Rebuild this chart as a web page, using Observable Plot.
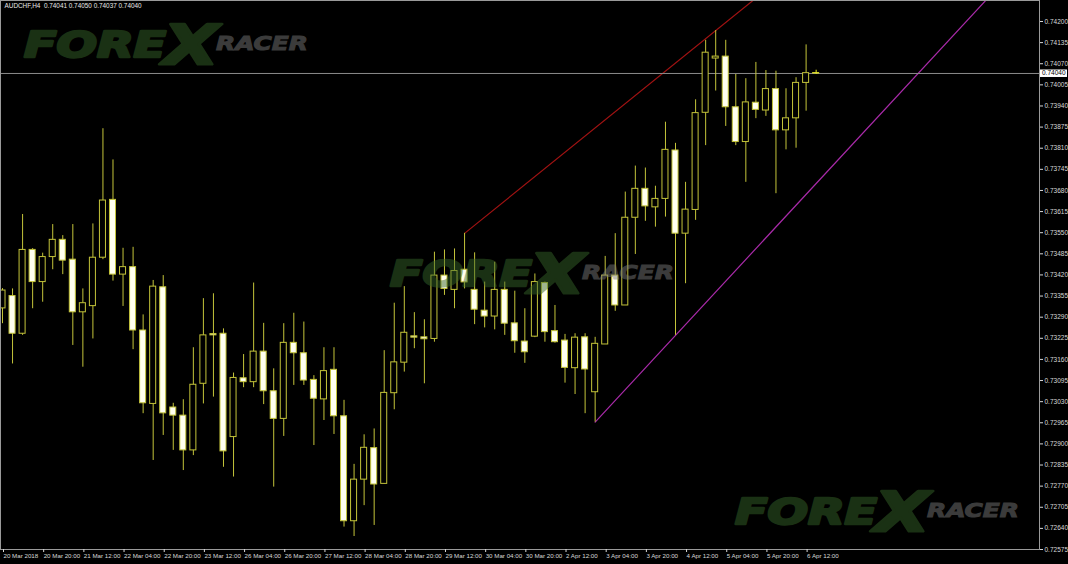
<!DOCTYPE html>
<html><head><meta charset="utf-8">
<script src="https://cdn.jsdelivr.net/npm/d3@7"></script>
<script src="https://cdn.jsdelivr.net/npm/@observablehq/plot@0.6"></script>
<style>html,body{margin:0;padding:0;background:#000;overflow:hidden}</style>
</head><body><div id="chart"></div>
<script>
const symbol = "AUDCHF,H4";
const lastQuote = [0.74041, 0.74050, 0.74037, 0.74040];
const opens = [0.73317,0.73355,0.73239,0.73497,0.73398,0.73475,0.73528,0.73467,0.73305,0.73324,
0.73473,0.73651,0.73421,0.73444,0.73249,0.73023,0.73382,0.73012,0.72987,0.72880,
0.73085,0.73238,0.73239,0.72921,0.73102,0.73090,0.73184,0.73062,0.72977,0.73211,
0.73179,0.73097,0.73037,0.73128,0.72985,0.72662,0.72790,0.72887,0.72777,0.73056,
0.73150,0.73231,0.73228,0.73223,0.73418,0.73374,0.73436,0.73374,0.73310,0.73292,
0.73374,0.73271,0.73215,0.73230,0.73395,0.73247,0.73218,0.73133,0.73228,0.73059,
0.73206,0.73418,0.73326,0.73596,0.73685,0.73628,0.73654,0.73803,0.73547,0.73620,
0.73919,0.74086,0.74092,0.73936,0.73829,0.73950,0.73926,0.73992,0.73865,0.73902,
0.74011,0.74041];
const highs = [0.73378,0.73377,0.73606,0.73501,0.73487,0.73575,0.73541,0.73575,0.73377,0.73577,
0.73870,0.73774,0.73502,0.73505,0.73297,0.73403,0.73418,0.73025,0.73036,0.73196,
0.73347,0.73362,0.73254,0.73118,0.73175,0.73395,0.73271,0.73131,0.73270,0.73302,
0.73275,0.73110,0.73196,0.73196,0.73034,0.72837,0.72928,0.72946,0.73187,0.73333,
0.73384,0.73304,0.73282,0.73490,0.73497,0.73500,0.73548,0.73488,0.73398,0.73459,
0.73398,0.73370,0.73316,0.73423,0.73398,0.73326,0.73237,0.73239,0.73239,0.73228,
0.73477,0.73547,0.73675,0.73755,0.73749,0.73693,0.73890,0.73825,0.73705,0.73959,
0.74142,0.74172,0.74142,0.74037,0.74024,0.74074,0.74049,0.74047,0.73993,0.74027,
0.74128,0.74050];
const lows = [0.73270,0.73146,0.73234,0.73316,0.73336,0.73436,0.73421,0.73203,0.73136,0.73223,
0.73467,0.73401,0.73323,0.73190,0.72993,0.72849,0.72926,0.72880,0.72818,0.72864,
0.73023,0.73044,0.72828,0.72798,0.73073,0.73073,0.73021,0.72767,0.72923,0.73080,
0.73080,0.72895,0.72972,0.72929,0.72644,0.72615,0.72710,0.72649,0.72777,0.73005,
0.73121,0.73193,0.73085,0.73213,0.73357,0.73316,0.73377,0.73267,0.73257,0.73251,
0.73234,0.73179,0.73148,0.73227,0.73213,0.73210,0.73087,0.73052,0.72993,0.72967,
0.73206,0.73308,0.73326,0.73483,0.73585,0.73567,0.73598,0.73234,0.73393,0.73588,
0.73818,0.73986,0.73877,0.73818,0.73705,0.73901,0.73908,0.73670,0.73805,0.73810,
0.73924,0.74037];
const closes = [0.73372,0.73239,0.73497,0.73398,0.73475,0.73528,0.73464,0.73305,0.73333,0.73473,
0.73649,0.73421,0.73444,0.73249,0.73025,0.73384,0.72994,0.72987,0.72880,0.73082,
0.73234,0.73234,0.72877,0.73103,0.73090,0.73184,0.73062,0.72977,0.73211,0.73179,
0.73095,0.73039,0.73124,0.72985,0.72662,0.72790,0.72888,0.72775,0.73057,0.73151,
0.73242,0.73227,0.73222,0.73418,0.73377,0.73432,0.73397,0.73313,0.73292,0.73374,
0.73270,0.73216,0.73182,0.73398,0.73244,0.73213,0.73134,0.73227,0.73129,0.73208,
0.73418,0.73326,0.73596,0.73685,0.73631,0.73654,0.73805,0.73547,0.73621,0.73918,
0.74104,0.74092,0.73936,0.73829,0.73951,0.73928,0.73992,0.73865,0.73902,0.74011,
0.74041,0.74040];
const timeLabels = ["20 Mar 2018","20 Mar 20:00","21 Mar 12:00","22 Mar 04:00","22 Mar 20:00",
"23 Mar 12:00","26 Mar 04:00","26 Mar 20:00","27 Mar 12:00","28 Mar 04:00","28 Mar 20:00",
"29 Mar 12:00","30 Mar 04:00","30 Mar 20:00","2 Apr 12:00","3 Apr 04:00","3 Apr 20:00",
"4 Apr 12:00","5 Apr 04:00","5 Apr 20:00","6 Apr 12:00"];
const barsPerLabel = 4;
const priceTicks = [0.74200,0.74135,0.74070,0.74005,0.73940,0.73875,0.73810,0.73745,0.73680,
0.73615,0.73550,0.73485,0.73420,0.73355,0.73290,0.73225,0.73160,0.73095,0.73030,0.72965,
0.72900,0.72835,0.72770,0.72705,0.72640,0.72575];
const bidPrice = [0.74040];
// trend lines: anchor bars (index) and prices
const upperLineBars = [46, 71];
const upperLinePrices = [0.73548, 0.74172];
const lowerLineBars = [59, 67];
const lowerLinePrices = [0.72967, 0.73234];

const bars = opens.map((o, i) => ({i, o, h: highs[i], l: lows[i], c: closes[i]}));
function ray(bs, ps) {
  const slope = (ps[1] - ps[0]) / (bs[1] - bs[0]);
  const far = bs[0] + 200;
  return [{i: bs[0], p: ps[0]}, {i: far, p: ps[0] + slope * (far - bs[0])}];
}
const upper = ray(upperLineBars, upperLinePrices);
const lower = ray(lowerLineBars, lowerLinePrices);

const W = 1068, H = 564;
const candleLine = "#c4c43a";
const half = 0.3;
const FONT = "Liberation Sans, Arial, sans-serif";
const chart = Plot.plot({
  width: W, height: H,
  marginLeft: 0, marginRight: 29, marginTop: 0, marginBottom: 15,
  style: {background: "#000", color: "#d8d8d8", fontFamily: FONT, overflow: "hidden"},
  x: {type: "linear", domain: [0, 80], range: [2, 805.6], axis: null, label: null},
  y: {type: "linear", domain: [0.72575, 0.742646], axis: null, label: null},
  marks: [
    Plot.line(upper, {x: "i", y: "p", stroke: "#a01212", strokeWidth: 1.2, clip: true}),
    Plot.line(lower, {x: "i", y: "p", stroke: "#a82aa8", strokeWidth: 1.2, clip: true}),
    Plot.ruleY(bidPrice, {stroke: "#8a8a8a", strokeWidth: 1}),
    Plot.ruleX(bars, {x: "i", y1: "l", y2: "h", stroke: d => d.i === 81 ? "#e8e820" : candleLine, strokeWidth: 1}),
    Plot.rect(bars, {
      x1: d => d.i - half, x2: d => d.i + half,
      y1: "o", y2: "c",
      fill: d => d.c > d.o ? "#000" : "#fffff0",
      stroke: d => d.i === 81 ? "#e8e820" : candleLine, strokeWidth: 1
    }),
    Plot.frame({stroke: "#9a9a9a", strokeWidth: 1}),
    Plot.axisY({anchor: "right", label: null, ticks: priceTicks, tickFormat: d => d.toFixed(5), tickSize: 3, tickPadding: 2, fontSize: 6.5, color: "#d8d8d8"}),
    Plot.axisX({anchor: "bottom", label: null, ticks: timeLabels.map((_, k) => k * barsPerLabel), tickFormat: v => timeLabels[v / barsPerLabel], tickSize: 3, tickPadding: 1, textAnchor: "start", dx: 1, fontSize: 6.2, color: "#d8d8d8"}),
    Plot.text([symbol + "  " + lastQuote.map(v => v.toFixed(5)).join(" ")], {frameAnchor: "top-left", dx: 4, dy: 3, fill: "#e8e8e8", fontSize: 6.4, textAnchor: "start", lineAnchor: "top"})
  ]
});
document.getElementById("chart").appendChild(chart);

const svg = d3.select(chart);
// FOREX RACER watermarks (semi-transparent overlay)
const spots = [[0, 0], [366, 229], [711, 467]];
for (const [dx, dy] of spots) {
  const w = svg.append("g").attr("transform", `translate(${dx},${dy})`).attr("opacity", 0.48)
    .attr("text-anchor", "start")
    .attr("font-family", "DejaVu Sans, Liberation Sans, sans-serif").attr("font-weight", "bold").attr("font-style", "italic");
  w.append("text").attr("x", 24).attr("y", 57).attr("font-size", 36).attr("textLength", 142).attr("lengthAdjust", "spacingAndGlyphs")
    .attr("fill", "#38662a").attr("stroke", "#38662a").attr("stroke-width", 2.5).attr("stroke-linejoin", "round").text("FORE");
  w.append("text").attr("x", 163).attr("y", 64).attr("font-size", 56).attr("textLength", 56).attr("lengthAdjust", "spacingAndGlyphs")
    .attr("fill", "#38662a").attr("stroke", "#38662a").attr("stroke-width", 2.5).attr("stroke-linejoin", "round").text("X");
  w.append("text").attr("x", 216).attr("y", 50).attr("font-size", 19).attr("textLength", 92).attr("lengthAdjust", "spacingAndGlyphs")
    .attr("fill", "#7c7c7c").attr("stroke", "#7c7c7c").attr("stroke-width", 1).text("RACER");
}
// bid price label box on the right axis
const yb = chart.scale("y").apply(bidPrice[0]);
const g = svg.append("g").attr("text-anchor", "start");
g.append("rect").attr("x", 1040).attr("y", yb - 3.5).attr("width", 27).attr("height", 7.5).attr("fill", "#fff");
g.append("text").attr("x", 1042).attr("y", yb + 2.3).attr("font-size", 6.5).attr("fill", "#000").attr("font-family", FONT).text(bidPrice[0].toFixed(5));
</script></body></html>
